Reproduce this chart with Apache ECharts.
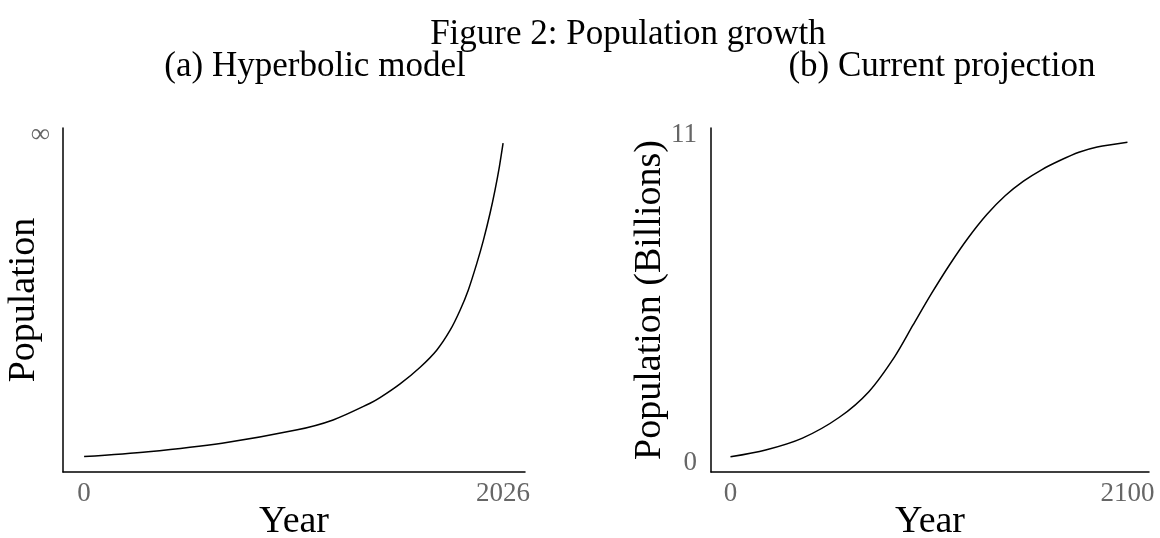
<!DOCTYPE html>
<html>
<head>
<meta charset="utf-8">
<script src="https://cdn.jsdelivr.net/npm/echarts@6/dist/echarts.min.js"></script>
<style>
  html, body { margin: 0; padding: 0; background: #fff; }
  #chart { width: 1160px; height: 538px; }
</style>
</head>
<body>
<div id="chart"></div>
<script>
// (a) hyperbolic model, relative units (100 = the "∞" tick)
var hypYears = [0, 310, 667, 1025, 1204, 1383, 1431, 1528, 1625, 1705, 1770, 1818, 1858, 1899, 1931, 1963, 1987, 2008, 2026];
var hypValues = [1.8, 3.3, 5.9, 9.9, 13.0, 18.1, 19.8, 24.0, 29.1, 34.3, 40.4, 46.5, 52.7, 60.8, 67.9, 76.1, 83.2, 90.3, 97.5];

// (b) current projection, billions
var projYears = [0, 186, 381, 576, 732, 868, 966, 1063, 1161, 1258, 1356, 1453, 1550, 1648, 1745, 1843, 1940, 2100];
var projValues = [0.19, 0.42, 0.82, 1.52, 2.38, 3.55, 4.62, 5.67, 6.66, 7.55, 8.33, 8.96, 9.45, 9.84, 10.15, 10.42, 10.60, 10.76];

var hypXTicks = [0, 2026];
var projXTicks = [0, 2100];
var hypYTicks = [100];
var projYTicks = [0, 11];

var FONT = "'Liberation Serif', serif";

var chart = echarts.init(document.getElementById('chart'));

function pairs(xs, ys) {
  return xs.map(function (x, i) { return [x, ys[i]]; });
}
function plain(v) { return String(v); }

var axisLineStyle = { show: true, onZero: false, lineStyle: { color: '#000', width: 1.5 } };
var tickLabel = { color: '#666', fontFamily: FONT, fontSize: 27 };
var nameStyle = { color: '#000', fontFamily: FONT, fontSize: 38 };
var headStyle = { fontFamily: FONT, fontSize: 35, fontWeight: 'normal', color: '#000' };

chart.setOption({
  backgroundColor: '#fff',
  animation: false,
  title: [
    { text: 'Figure 2: Population growth', left: 623, top: 12, textAlign: 'center', textStyle: headStyle },
    { text: '(a) Hyperbolic model', left: 310, top: 44, textAlign: 'center', textStyle: headStyle },
    { text: '(b) Current projection', left: 937, top: 44, textAlign: 'center', textStyle: headStyle }
  ],
  grid: [
    { left: 63, top: 128, width: 462, height: 344, outerBoundsMode: 'none' },
    { left: 711, top: 128, width: 438, height: 344, outerBoundsMode: 'none' }
  ],
  xAxis: [
    { type: 'value', gridIndex: 0, min: -102, max: 2132,
      name: 'Year', nameLocation: 'middle', nameGap: 31, nameMoveOverlap: false, nameTextStyle: nameStyle,
      axisLine: axisLineStyle, axisTick: { show: false }, splitLine: { show: false },
      axisLabel: Object.assign({ customValues: hypXTicks, margin: 8, formatter: plain }, tickLabel) },
    { type: 'value', gridIndex: 1, min: -103, max: 2214,
      name: 'Year', nameLocation: 'middle', nameGap: 31, nameMoveOverlap: false, nameTextStyle: nameStyle,
      axisLine: axisLineStyle, axisTick: { show: false }, splitLine: { show: false },
      axisLabel: Object.assign({ customValues: projXTicks, margin: 8, formatter: plain }, tickLabel) }
  ],
  yAxis: [
    { type: 'value', gridIndex: 0, min: -2.9, max: 102.14,
      name: 'Population', nameLocation: 'middle', nameGap: 20, nameMoveOverlap: false, nameTextStyle: nameStyle,
      axisLine: axisLineStyle, axisTick: { show: false }, splitLine: { show: false },
      axisLabel: Object.assign({ customValues: hypYTicks, margin: 13,
        formatter: function () { return '∞'; } }, tickLabel) },
    { type: 'value', gridIndex: 1, min: -0.319, max: 11.235,
      name: 'Population (Billions)', nameLocation: 'middle', nameGap: 42, nameMoveOverlap: false, nameTextStyle: nameStyle,
      axisLine: axisLineStyle, axisTick: { show: false }, splitLine: { show: false },
      axisLabel: Object.assign({ customValues: projYTicks, margin: 14, formatter: plain }, tickLabel) }
  ],
  series: [
    { type: 'line', xAxisIndex: 0, yAxisIndex: 0, data: pairs(hypYears, hypValues),
      smooth: 0.3, showSymbol: false, lineStyle: { color: '#000', width: 1.5 } },
    { type: 'line', xAxisIndex: 1, yAxisIndex: 1, data: pairs(projYears, projValues),
      smooth: 0.3, showSymbol: false, lineStyle: { color: '#000', width: 1.5 } }
  ]
});
</script>
</body>
</html>
